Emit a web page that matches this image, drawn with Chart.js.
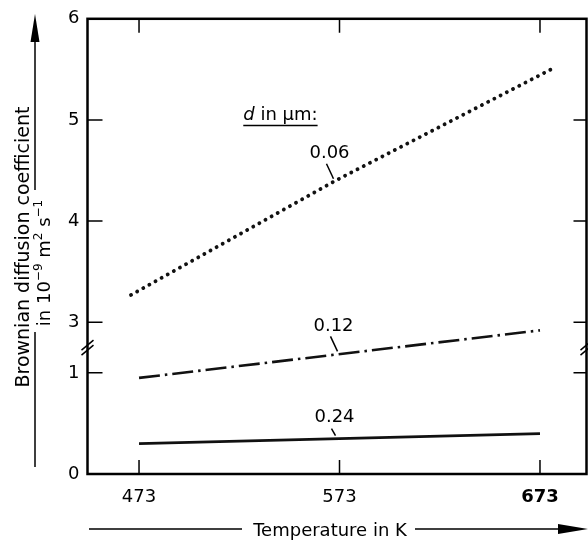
<!DOCTYPE html>
<html>
<head>
<meta charset="utf-8">
<script src="https://cdn.jsdelivr.net/npm/chart.js@4.4.1/dist/chart.umd.min.js"></script>
<style>
  html, body { margin: 0; padding: 0; background: #fff; }
</style>
</head>
<body>
<canvas id="chart" width="588" height="543"></canvas>
<script>
// temperature in K
const temps = [473, 573, 673];
const temps006 = [469, 571, 679.5];   // dotted curve runs a little past the end ticks
const temps012 = [473, 673];
// Brownian diffusion coefficient in 10^-9 m^2 s^-1, per particle diameter d
const coef006 = [3.27, 4.40, 5.51];
const coef012 = [0.95, 2.92];         // starts on the lower scale, ends on the upper one
const coef024 = [0.30, 0.35, 0.40];
const diameters = ['0.06', '0.12', '0.24'];
const yTicks = [0, 1, 3, 4, 5, 6];
const xTicks = [473, 573, 673];

const FONT = "'DejaVu Sans', sans-serif";

// y axis is broken between 1 and 3, the upper part is moved down by 1.5
function toAxis(v) {
    return v <= 1 ? v : v - 1.5;
}

function points(xs, ys) {
    return xs.map((x, i) => ({ x: x, y: toAxis(ys[i]) }));
}

// y of a drawn line at pixel px, from the points chart.js placed
function lineY(chart, i, px) {
    const pts = chart.getDatasetMeta(i).data;
    for (let k = 0; k < pts.length - 1; k++) {
        const p = pts[k], q = pts[k + 1];
        if (px >= p.x && px <= q.x) return p.y + (q.y - p.y) * (px - p.x) / (q.x - p.x);
    }
    return pts[pts.length - 1].y;
}

function arrowHead(ctx, x, y, dir) {
    // dir: 'up' or 'right'
    ctx.beginPath();
    if (dir === 'up') {
        ctx.moveTo(x, y);
        ctx.lineTo(x - 4.5, y + 28);
        ctx.lineTo(x + 4.5, y + 28);
    } else {
        ctx.moveTo(x, y);
        ctx.lineTo(x - 30, y - 5);
        ctx.lineTo(x - 30, y + 5);
    }
    ctx.closePath();
    ctx.fill();
}

const decor = {
    id: 'decor',
    afterDraw(chart) {
        const { ctx, chartArea: a, scales: { x, y } } = chart;
        ctx.save();
        ctx.strokeStyle = '#000';
        ctx.fillStyle = '#000';

        // frame
        ctx.lineWidth = 2.5;
        ctx.strokeRect(a.left, a.top, a.right - a.left, a.bottom - a.top);

        // ticks pointing inwards
        ctx.lineWidth = 1.5;
        ctx.beginPath();
        xTicks.forEach(t => {
            const px = x.getPixelForValue(t);
            ctx.moveTo(px, a.bottom); ctx.lineTo(px, a.bottom - 14);
            ctx.moveTo(px, a.top); ctx.lineTo(px, a.top + 14);
        });
        yTicks.forEach(v => {
            const py = y.getPixelForValue(toAxis(v));
            if (py <= a.top + 1 || py >= a.bottom - 1) return;
            ctx.moveTo(a.left, py); ctx.lineTo(a.left + 15, py);
            ctx.moveTo(a.right, py); ctx.lineTo(a.right - 13, py);
        });
        ctx.stroke();

        // break marks on both y axes
        const yb = y.getPixelForValue(1.25);
        ctx.beginPath();
        [a.left, a.right].forEach(ax => {
            [-2.5, 2.5].forEach(k => {
                ctx.moveTo(ax - 6, yb + k + 5);
                ctx.lineTo(ax + 6, yb + k - 5);
            });
        });
        ctx.stroke();

        // series labels with leaders
        ctx.font = '18px ' + FONT;
        ctx.textAlign = 'center';
        ctx.textBaseline = 'middle';
        const at = [570, 572, 571];
        diameters.forEach((d, i) => {
            const px = x.getPixelForValue(at[i]);
            const py = lineY(chart, i, px);
            const short = i === 2;
            ctx.beginPath();
            ctx.moveTo(px, py - 3);
            ctx.lineTo(px - (short ? 4 : 7), py - (short ? 10 : 18));
            ctx.stroke();
            ctx.fillText(d, px - (short ? 1 : 4), py - (short ? 21 : 28));
        });

        // "d in µm:" heading, underlined
        const hx = x.getPixelForValue(525);
        const hy = y.getPixelForValue(toAxis(5.0));
        ctx.textAlign = 'left';
        ctx.textBaseline = 'alphabetic';
        ctx.font = 'italic 18px ' + FONT;
        ctx.fillText('d', hx, hy);
        const dw = ctx.measureText('d').width;
        ctx.font = '18px ' + FONT;
        ctx.fillText(' in \u00b5m:', hx + dw, hy);
        const tw = dw + ctx.measureText(' in \u00b5m:').width;
        ctx.beginPath();
        ctx.moveTo(hx, hy + 5.5);
        ctx.lineTo(hx + tw, hy + 5.5);
        ctx.stroke();

        // y axis title, two rotated lines
        ctx.save();
        ctx.translate(29, 247);
        ctx.rotate(-Math.PI / 2);
        ctx.textAlign = 'center';
        ctx.font = '19px ' + FONT;
        ctx.fillText('Brownian diffusion coefficient', 0, 0);
        ctx.restore();

        const parts = [['in 10', 18, 0], ['\u22129', 12, -8], [' m', 18, 0], ['2', 12, -8], [' s', 18, 0], ['\u22121', 12, -8]];
        let total = 0;
        parts.forEach(p => { ctx.font = p[1] + 'px ' + FONT; total += ctx.measureText(p[0]).width; });
        ctx.save();
        ctx.translate(50, 263);
        ctx.rotate(-Math.PI / 2);
        ctx.textAlign = 'left';
        let cx = -total / 2;
        parts.forEach(p => {
            ctx.font = p[1] + 'px ' + FONT;
            ctx.fillText(p[0], cx, p[2]);
            cx += ctx.measureText(p[0]).width;
        });
        ctx.restore();

        // y arrow
        ctx.lineWidth = 1.5;
        ctx.beginPath();
        ctx.moveTo(35, 40); ctx.lineTo(35, 190);
        ctx.moveTo(35, 332); ctx.lineTo(35, 467);
        ctx.stroke();
        arrowHead(ctx, 35, 14, 'up');

        // x title and arrow
        ctx.font = '18px ' + FONT;
        ctx.textAlign = 'center';
        ctx.fillText('Temperature in K', 330, 536);
        ctx.beginPath();
        ctx.moveTo(89, 529); ctx.lineTo(242, 529);
        ctx.moveTo(415, 529); ctx.lineTo(560, 529);
        ctx.stroke();
        arrowHead(ctx, 588, 529, 'right');

        ctx.restore();
    }
};

const ctx = document.getElementById('chart').getContext('2d');
new Chart(ctx, {
    type: 'line',
    data: {
        datasets: [
            {
                label: diameters[0],
                data: points(temps006, coef006),
                borderColor: '#111',
                borderWidth: 3.8,
                borderDash: [0.1, 6.9],
                borderCapStyle: 'round',
                pointRadius: 0
            },
            {
                label: diameters[1],
                data: points(temps012, coef012),
                borderColor: '#111',
                borderWidth: 2.6,
                borderDash: [21, 5, 2.5, 5],
                pointRadius: 0
            },
            {
                label: diameters[2],
                data: points(temps, coef024),
                borderColor: '#111',
                borderWidth: 2.8,
                pointRadius: 0
            }
        ]
    },
    options: {
        responsive: false,
        animation: false,
        layout: { padding: { top: 17, right: 1.5, left: 0, bottom: 0 } },
        plugins: {
            legend: { display: false },
            tooltip: { enabled: false }
        },
        scales: {
            x: {
                type: 'linear',
                min: 447.3,
                max: 696.2,
                afterBuildTicks: s => { s.ticks = xTicks.map(v => ({ value: v })); },
                afterFit: s => { s.height = 69; },
                grid: { display: false, drawTicks: false },
                border: { display: false },
                ticks: {
                    padding: 13,
                    color: '#000',
                    maxRotation: 0,
                    font: c => ({ family: FONT, size: 18, weight: c.tick && c.tick.value === 673 ? 'bold' : 'normal' }),
                    callback: v => String(v)
                }
            },
            y: {
                type: 'linear',
                min: 0,
                max: 4.5,
                afterBuildTicks: s => { s.ticks = yTicks.map(v => ({ value: toAxis(v) })); },
                afterFit: s => { s.width = 87.5; },
                grid: { display: false, drawTicks: false },
                border: { display: false },
                ticks: {
                    padding: 8,
                    color: '#000',
                    font: { family: FONT, size: 18 },
                    callback: (v, i) => String(yTicks[i])
                }
            }
        }
    },
    plugins: [decor]
});
</script>
</body>
</html>
